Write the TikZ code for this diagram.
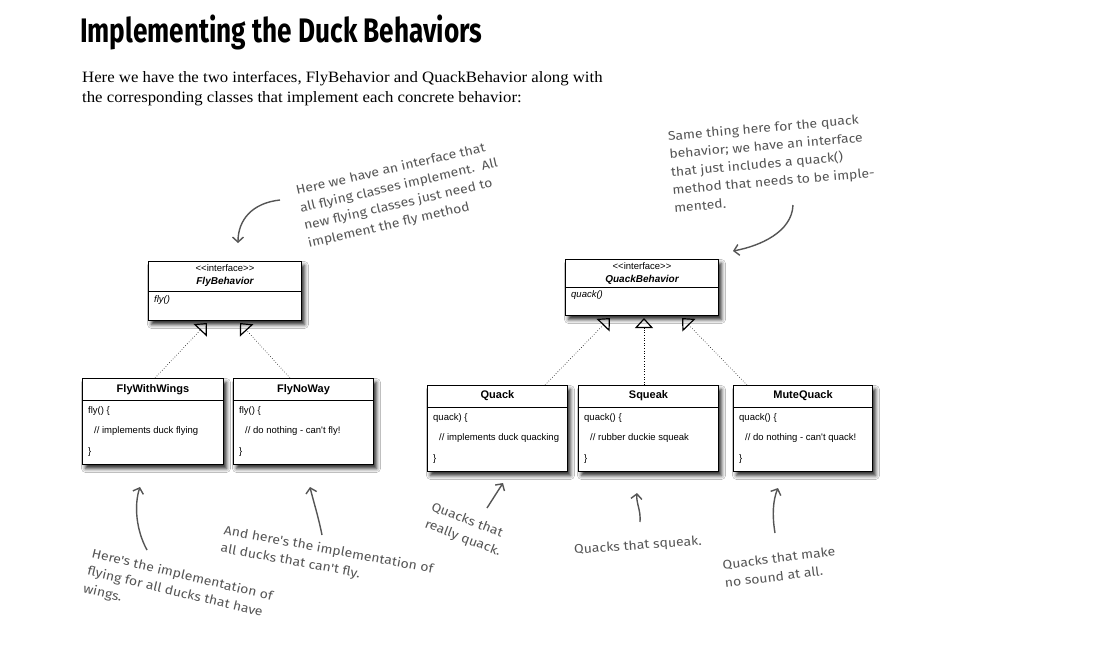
\documentclass[tikz,border=0pt]{standalone}
\usepackage{fontspec}
\setmainfont{Liberation Serif}[FakeStretch=1.06]
\newfontfamily\titlefont{Fira Sans}[FakeStretch=0.77]
\newfontfamily\notefont{Fira Sans}[FakeStretch=1.12]
\newfontfamily\umlfont{Liberation Sans}[Ligatures=TeXOff]
\usetikzlibrary{arrows.meta, shadows.blur}
\definecolor{notegray}{RGB}{85,85,85}

\tikzset{
  umlbox/.style={draw, line width=1pt, fill=white, anchor=north west, inner sep=0pt,
    blur shadow={shadow xshift=3pt, shadow yshift=-4pt, shadow blur radius=4pt, shadow opacity=85}},
  umlst/.style={font=\umlfont\fontsize{9.5}{11}\selectfont, inner sep=0pt},
  umlname/.style={font=\umlfont\fontsize{11}{13}\selectfont\bfseries, inner sep=0pt},
  umliname/.style={font=\umlfont\fontsize{10}{12}\selectfont\bfseries\itshape, inner sep=0pt},
  umlop/.style={font=\umlfont\fontsize{9.5}{11}\selectfont\itshape, anchor=west, inner sep=0pt},
  umlbody/.style={font=\umlfont\fontsize{9.5}{20.5}\selectfont, align=left, anchor=north west, inner sep=0pt},
  realize/.style={dotted, line width=0.6pt, -{Triangle[open, length=10pt, width=18pt, line width=1.2pt]}},
  note/.style={font=\notefont\fontsize{12.5}{18}\selectfont, text=notegray, align=left, inner sep=0pt},
  pointer/.style={draw=notegray, line width=1.4pt, ->},
}

\begin{document}
\begin{tikzpicture}[x=1pt, y=-1pt, >={Straight Barb[length=5pt, width=11pt]}]
    % 1. Page
    \fill[white] (0,0) rectangle (1120,667);
    \useasboundingbox (0,0) rectangle (1120,667);

    % 2. Heading and intro text
    \node[anchor=base west, inner sep=0pt, font=\titlefont\bfseries\fontsize{34}{34}\selectfont] (title) at (80,42)
        {Implementing the Duck Behaviors};
    \node[anchor=north west, inner sep=0pt, align=left, font=\fontsize{15.8}{20}\selectfont] (intro) at (82,71)
        {Here we have the two interfaces, FlyBehavior and QuackBehavior along with\\
         the corresponding classes that implement each concrete behavior:};

    % 3. Interfaces
    \node[umlbox, minimum width=153pt, minimum height=59pt] (flyb) at (148,261) {};
    \draw[line width=1pt] ([yshift=-30pt]flyb.north west) -- ([yshift=-30pt]flyb.north east);
    \node[umlst] (flyb-st) at ([yshift=-7pt]flyb.north) {<<interface>>};
    \node[umliname] (flyb-name) at ([yshift=-21pt]flyb.north) {FlyBehavior};
    \node[umlop] (flyb-op) at ([shift={(6pt,-39pt)}]flyb.north west) {fly()};

    \node[umlbox, minimum width=153pt, minimum height=56pt] (quackb) at (565,259) {};
    \draw[line width=1pt] ([yshift=-28pt]quackb.north west) -- ([yshift=-28pt]quackb.north east);
    \node[umlst] (quackb-st) at ([yshift=-7pt]quackb.north) {<<interface>>};
    \node[umliname] (quackb-name) at ([yshift=-21pt]quackb.north) {QuackBehavior};
    \node[umlop] (quackb-op) at ([shift={(6pt,-36pt)}]quackb.north west) {quack()};

    % 4. Fly classes
    \node[umlbox, minimum width=141pt, minimum height=86pt] (wings) at (82,378) {};
    \draw[line width=1pt] ([yshift=-22pt]wings.north west) -- ([yshift=-22pt]wings.north east);
    \node[umlname] (wings-name) at ([yshift=-12pt]wings.north) {FlyWithWings};
    \node[umlbody] (wings-body) at ([shift={(6pt,-28pt)}]wings.north west)
        {fly() \{\\\hspace*{6pt}// implements duck flying\\\}};

    \node[umlbox, minimum width=140pt, minimum height=86pt] (noway) at (233,378) {};
    \draw[line width=1pt] ([yshift=-22pt]noway.north west) -- ([yshift=-22pt]noway.north east);
    \node[umlname] (noway-name) at ([yshift=-12pt]noway.north) {FlyNoWay};
    \node[umlbody] (noway-body) at ([shift={(6pt,-28pt)}]noway.north west)
        {fly() \{\\\hspace*{6pt}// do nothing - can't fly!\\\}};

    % 5. Quack classes
    \node[umlbox, minimum width=140pt, minimum height=86pt] (quack) at (427,385) {};
    \draw[line width=1pt] ([yshift=-22pt]quack.north west) -- ([yshift=-22pt]quack.north east);
    \node[umlname] (quack-name) at ([yshift=-11pt]quack.north) {Quack};
    \node[umlbody] (quack-body) at ([shift={(6pt,-28pt)}]quack.north west)
        {quack) \{\\\hspace*{6pt}// implements duck quacking\\\}};

    \node[umlbox, minimum width=140pt, minimum height=86pt] (squeak) at (578,385) {};
    \draw[line width=1pt] ([yshift=-22pt]squeak.north west) -- ([yshift=-22pt]squeak.north east);
    \node[umlname] (squeak-name) at ([yshift=-11pt]squeak.north) {Squeak};
    \node[umlbody] (squeak-body) at ([shift={(6pt,-28pt)}]squeak.north west)
        {quack() \{\\\hspace*{6pt}// rubber duckie squeak\\\}};

    \node[umlbox, minimum width=139pt, minimum height=86pt] (mute) at (733,385) {};
    \draw[line width=1pt] ([yshift=-22pt]mute.north west) -- ([yshift=-22pt]mute.north east);
    \node[umlname] (mute-name) at ([yshift=-11pt]mute.north) {MuteQuack};
    \node[umlbody] (mute-body) at ([shift={(6pt,-28pt)}]mute.north west)
        {quack() \{\\\hspace*{6pt}// do nothing - can't quack!\\\}};

    % 6. Realizations
    \draw[realize] ([xshift=73pt]wings.north west) -- ([shift={(59pt,-2pt)}]flyb.south west);
    \draw[realize] ([xshift=57pt]noway.north west) -- ([shift={(92pt,-2pt)}]flyb.south west);
    \draw[realize] ([xshift=118pt]quack.north west) -- ([shift={(45pt,-2pt)}]quackb.south west);
    \draw[realize] ([xshift=66pt]squeak.north west) -- ([shift={(79pt,-2pt)}]quackb.south west);
    \draw[realize] ([xshift=14pt]mute.north west) -- ([shift={(117pt,-2pt)}]quackb.south west);

    % 7. Notes
    \node[note, rotate=13] (note-fly) at (401,195)
        {Here we have an interface that\\all flying classes implement.\ \ All\\new flying classes just need to\\implement the fly method};
    \node[note, rotate=5] (note-quack) at (772,163)
        {Same thing here for the quack\\behavior; we have an interface\\that just includes a quack()\\method that needs to be imple-\\mented.};
    \node[note, rotate=-13.5] (note-wings) at (178,593)
        {Here's the implementation of\\flying for all ducks that have\\wings.};
    \node[note, rotate=-10.5] (note-noway) at (327,559)
        {And here's the implementation of\\all ducks that can't fly.};
    \node[note, rotate=-21] (note-quack2) at (466,530) {Quacks that\\really quack.};
    \node[note, rotate=4] (note-squeak) at (638,546) {Quacks that squeak.};
    \node[note, rotate=7] (note-mute) at (780,567) {Quacks that make\\no sound at all.};

    % 8. Pointers
    \coordinate (pfly1) at (280,200);   \coordinate (pfly2) at (238,243);
    \coordinate (pqk1) at (793,205);    \coordinate (pqk2) at (733,251);
    \coordinate (pwing1) at (147,550);  \coordinate (pwing2) at (140,487);
    \coordinate (pnoway1) at (322,535); \coordinate (pnoway2) at (310,487);
    \coordinate (pquack1) at (487,508); \coordinate (pquack2) at (503,483);
    \coordinate (psqk1) at (640,522);   \coordinate (psqk2) at (637,493);
    \coordinate (pmute1) at (775,533);  \coordinate (pmute2) at (778,488);
    \draw[pointer] (pfly1) .. controls (252,203) and (238,220) .. (pfly2);
    \draw[pointer] (pqk1) .. controls (792,232) and (760,246) .. (pqk2);
    \draw[pointer] (pwing1) .. controls (136,530) and (134,505) .. (pwing2);
    \draw[pointer] (pnoway1) .. controls (318,515) and (313,500) .. (pnoway2);
    \draw[pointer] (pquack1) -- (pquack2);
    \draw[pointer] (psqk1) .. controls (641,510) and (636,503) .. (psqk2);
    \draw[pointer] (pmute1) .. controls (772,515) and (773,500) .. (pmute2);
\end{tikzpicture}
\end{document}
